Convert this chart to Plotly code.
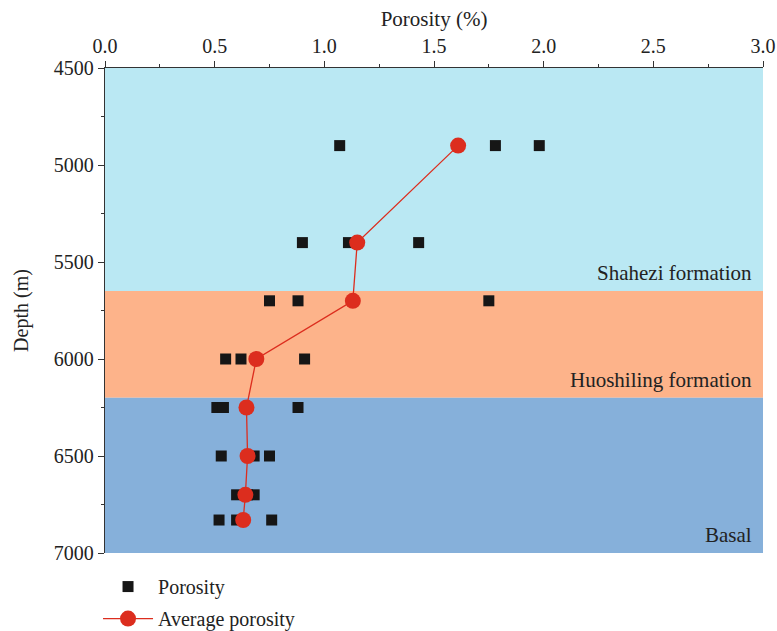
import plotly.graph_objects as go

# Individual porosity measurements
sample_depth = [4900, 4900, 4900,
                5400, 5400, 5400,
                5700, 5700, 5700,
                6000, 6000, 6000,
                6250, 6250, 6250,
                6500, 6500, 6500,
                6700, 6700, 6700,
                6830, 6830, 6830]
sample_porosity = [1.07, 1.78, 1.98,
                   0.90, 1.11, 1.43,
                   0.75, 0.88, 1.75,
                   0.55, 0.62, 0.91,
                   0.51, 0.54, 0.88,
                   0.53, 0.68, 0.75,
                   0.60, 0.65, 0.68,
                   0.52, 0.60, 0.76]

# Average porosity per depth
avg_depth = [4900, 5400, 5700, 6000, 6250, 6500, 6700, 6830]
avg_porosity = [1.61, 1.15, 1.13, 0.69, 0.645, 0.65, 0.64, 0.63]

# Formation bands
formation_names = ["Shahezi formation", "Huoshiling formation", "Basal"]
formation_top = [4500, 5650, 6200]
formation_bottom = [5650, 6200, 7000]
formation_colors = ["#BAE8F3", "#FDB38A", "#86B0DA"]

x_ticks = [0, 0.5, 1.0, 1.5, 2.0, 2.5, 3.0]
x_ticktext = ["0.0", "0.5", "1.0", "1.5", "2.0", "2.5", "3.0"]
y_ticks = [4500, 5000, 5500, 6000, 6500, 7000]

FONT = "Liberation Serif"
AX = "#333333"

fig = go.Figure()

fig.add_trace(go.Scatter(
    x=sample_porosity, y=sample_depth, mode="markers", name="Porosity",
    legendgroup="a",
    marker=dict(symbol="square", size=11, color="#161616"),
))
fig.add_trace(go.Scatter(
    x=avg_porosity, y=avg_depth, mode="lines+markers", name="Average porosity",
    legendgroup="b",
    line=dict(color="#DC2D1E", width=1.3),
    marker=dict(symbol="circle", size=16, color="#DC2D1E"),
))

for name, top, bot, col in zip(formation_names, formation_top, formation_bottom, formation_colors):
    fig.add_shape(type="rect", xref="paper", yref="y", x0=0, x1=1, y0=top, y1=bot,
                  fillcolor=col, line=dict(width=0), layer="below")
    fig.add_annotation(xref="paper", yref="y", x=0.986, y=bot, text=name,
                       showarrow=False, xanchor="right", yanchor="bottom", yshift=4,
                       font=dict(family=FONT, size=21, color="#222222"))

fig.update_layout(
    width=777, height=631,
    margin=dict(l=105, r=14, t=68, b=78, autoexpand=False),
    paper_bgcolor="white", plot_bgcolor="white",
    font=dict(family=FONT, size=20, color="#222222"),
    showlegend=True,
    legend=dict(x=-0.0106, y=-0.029, xanchor="left", yanchor="top",
                bgcolor="rgba(0,0,0,0)", font=dict(family=FONT, size=20),
                tracegroupgap=3, itemwidth=50),
    xaxis=dict(
        side="top", range=[0, 3.0], tickvals=x_ticks, ticktext=x_ticktext,
        title=dict(text="Porosity (%)", font=dict(family=FONT, size=21), standoff=2),
        automargin=False,
        showgrid=False, zeroline=False, showline=True, linecolor=AX, linewidth=1.3,
        ticks="outside", ticklen=6, tickcolor=AX,
        minor=dict(tickvals=[0.25, 0.75, 1.25, 1.75, 2.25, 2.75], ticks="outside",
                   ticklen=3, tickcolor=AX),
    ),
    yaxis=dict(
        range=[7000, 4500], tickvals=y_ticks,
        title=dict(text="Depth (m)", font=dict(family=FONT, size=20), standoff=19),
        automargin=False,
        showgrid=False, zeroline=False, showline=True, linecolor=AX, linewidth=1.3,
        ticks="outside", ticklen=6, tickcolor=AX,
        minor=dict(tickvals=[4750, 5250, 5750, 6250, 6750], ticks="outside",
                   ticklen=3, tickcolor=AX),
    ),
)

fig.write_html("out.html", config={"displayModeBar": False},
               post_script="document.body.style.margin='0';")
